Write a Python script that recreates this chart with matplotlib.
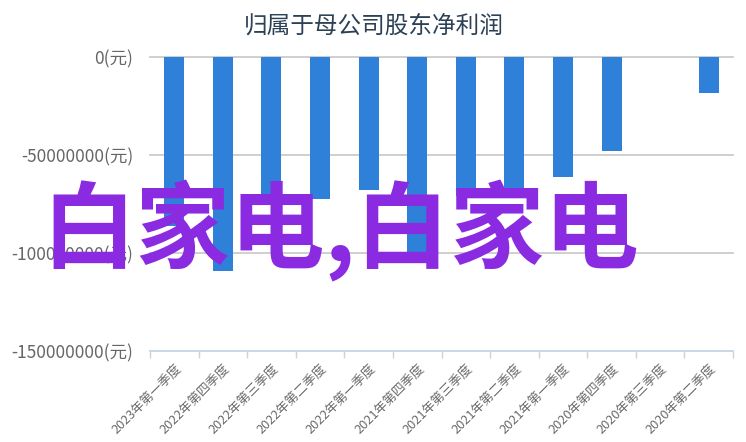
import numpy as np
import matplotlib
matplotlib.use("Agg")
import matplotlib.pyplot as plt

plt.rcParams['font.family'] = ['Noto Sans CJK SC', 'DejaVu Sans']

# data (yuan)
quarters = ['2023年第一季度', '2022年第四季度', '2022年第三季度', '2022年第二季度',
            '2022年第一季度', '2021年第四季度', '2021年第三季度', '2021年第二季度',
            '2021年第一季度', '2020年第四季度', '2020年第三季度', '2020年第二季度']
net_profit = [-86000000, -109000000, -74000000, -72500000,
              -68000000, -104000000, -71000000, -70000000,
              -61000000, -48000000, -150000, -18200000]
y_ticks = [0, -50000000, -100000000, -150000000]
y_labels = [f'{v}(元)' for v in y_ticks]

fig = plt.figure(figsize=(7.46, 4.42), dpi=100)
ax = fig.add_axes([150 / 746, 1 - 351 / 442, 583 / 746, 294 / 442])

x = np.arange(len(quarters))
ax.bar(x, net_profit, width=0.41, color='#2f80d8', zorder=3)

ax.set_xlim(-0.5, len(quarters) - 0.5)
ax.set_ylim(-150000000, 0)
ax.set_yticks(y_ticks)
ax.set_yticklabels(y_labels, fontsize=12.5, color='#666666')
ax.tick_params(axis='y', length=0, pad=12)

ax.set_xticks(x)
ax.set_xticklabels(quarters, rotation=45, ha='right', va='top',
                   rotation_mode='anchor', fontsize=9.2, color='#6a6a6a')
ax.tick_params(axis='x', which='major', length=0, pad=8)
ax.set_xticks(np.arange(len(quarters) + 1) - 0.5, minor=True)
ax.tick_params(axis='x', which='minor', length=5, color='#c6d5e5', width=1)

for v in y_ticks[:-1]:
    ax.axhline(v, color='#cccccc', lw=1.3, zorder=1, clip_on=False)

for s in ['top', 'right', 'left']:
    ax.spines[s].set_visible(False)
ax.spines['bottom'].set_color('#c6d5e5')
ax.spines['bottom'].set_linewidth(1.3)

fig.text(374 / 746, 1 - 26 / 442, '归属于母公司股东净利润', ha='center', va='center',
         fontsize=17, color='#2d4156')

# watermark
fig.text(340 / 746, 1 - 231 / 442, '白家电,白家电', ha='center', va='center',
         fontsize=68, fontweight='bold', color='#8a2be2', zorder=10)

fig.savefig('out.png', dpi=100)
